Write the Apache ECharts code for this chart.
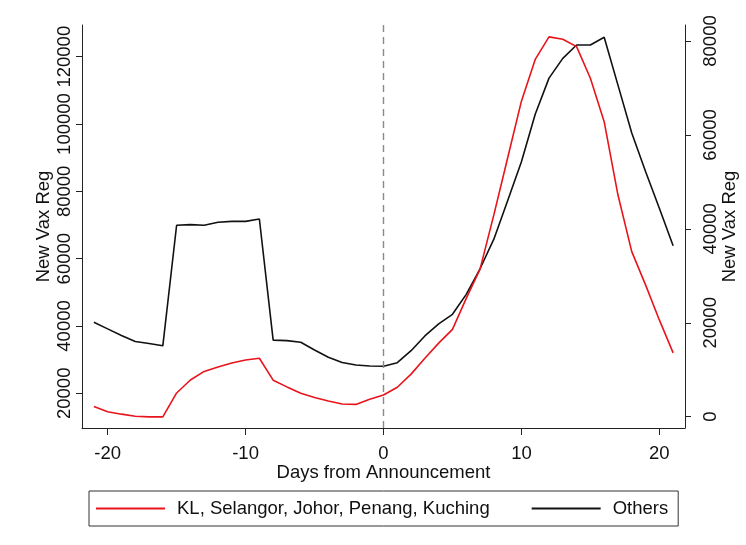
<!DOCTYPE html>
<html>
<head>
<meta charset="utf-8">
<script src="https://cdn.jsdelivr.net/npm/echarts@6/dist/echarts.min.js"></script>
<style>
  html, body { margin: 0; padding: 0; background: #ffffff; }
  #chart { width: 746px; height: 545px; }
</style>
</head>
<body>
<div id="chart"></div>
<script>
// Days relative to the announcement
var days = [-21, -20, -19, -18, -17, -16, -15, -14, -13, -12, -11, -10, -9, -8, -7, -6, -5, -4, -3, -2, -1,
            0, 1, 2, 3, 4, 5, 6, 7, 8, 9, 10, 11, 12, 13, 14, 15, 16, 17, 18, 19, 20, 21];

// New vaccine registrations, major urban areas (left axis)
var klGroup = [16100, 14500, 13800, 13200, 13000, 13000, 20100, 23950, 26500, 27800, 29000, 29900, 30400,
               23900, 21900, 20000, 18750, 17700, 16800, 16700, 18200,
               19500, 21800, 25700, 30400, 34900, 39000, 48200, 56900, 73000, 89900, 106800, 119200, 125900,
               125200, 123000, 113600, 100700, 78900, 62100, 52200, 41800, 32000];

// New vaccine registrations, all other areas (right axis)
var others = [20100, 18700, 17300, 16000, 15600, 15100, 40760, 40890, 40760, 41400, 41600, 41600, 42100,
              16300, 16200, 15850, 14200, 12650, 11550, 11000, 10800,
              10750, 11500, 14050, 17200, 19750, 21800, 26050, 31500, 37800, 46000, 54300, 64400, 72100,
              76300, 79150, 79150, 80800, 70600, 60400, 52200, 44400, 36400];

// Axis tick positions
var xTicks = [-20, -10, 0, 10, 20];
var leftTicks = [20000, 40000, 60000, 80000, 100000, 120000];
var rightTicks = [0, 20000, 40000, 60000, 80000];

var legendNames = ['KL, Selangor, Johor, Penang, Kuching', 'Others'];

function pairs(xs, ys) {
  return xs.map(function (x, i) { return [x, ys[i]]; });
}

var FONT = '"Liberation Sans", Arial, sans-serif';
var FONT_SIZE = 18.5;
var TEXT_COLOR = '#111111';
var AXIS_COLOR = '#222222';

var chart = echarts.init(document.getElementById('chart'), null, { renderer: 'canvas' });

function plainNumber(v) { return String(Math.round(v)); }

function yAxisCfg(position, min, max, ticks) {
  var isLeft = position === 'left';
  return {
    type: 'value',
    position: position,
    min: min,
    max: max,
    name: 'New Vax Reg',
    nameLocation: 'middle',
    nameRotate: 90,
    nameGap: isLeft ? 29 : 35,
    nameMoveOverlap: false,
    nameTextStyle: { fontFamily: FONT, fontSize: FONT_SIZE, color: TEXT_COLOR },
    splitLine: { show: false },
    axisLine: { show: true, onZero: false, lineStyle: { color: AXIS_COLOR, width: 1 } },
    axisTick: { show: true, length: 6, customValues: ticks, lineStyle: { color: AXIS_COLOR, width: 1 } },
    axisLabel: {
      customValues: ticks,
      formatter: plainNumber,
      rotate: 90,
      margin: isLeft ? 8 : 16,
      fontFamily: FONT,
      fontSize: FONT_SIZE,
      color: TEXT_COLOR
    }
  };
}

var option = {
  animation: false,
  backgroundColor: '#ffffff',
  grid: { left: 82, right: 61, top: 25, bottom: 117, containLabel: false, outerBoundsMode: 'none' },
  legend: {
    data: legendNames,
    left: 89,
    top: 491,
    orient: 'horizontal',
    icon: 'rect',
    itemWidth: 69,
    itemHeight: 2,
    itemGap: 42,
    padding: [8, 10, 8, 7],
    borderColor: '#333333',
    borderWidth: 1,
    textStyle: { fontFamily: FONT, fontSize: FONT_SIZE, color: TEXT_COLOR, padding: [0, 0, 0, 7] }
  },
  xAxis: {
    type: 'value',
    min: -21.86,
    max: 21.86,
    name: 'Days from Announcement',
    nameLocation: 'middle',
    nameGap: 35,
    nameMoveOverlap: false,
    nameTextStyle: { fontFamily: FONT, fontSize: FONT_SIZE, color: TEXT_COLOR },
    splitLine: { show: false },
    axisLine: { show: true, onZero: false, lineStyle: { color: AXIS_COLOR, width: 1 } },
    axisTick: { show: true, length: 7, customValues: xTicks, lineStyle: { color: AXIS_COLOR, width: 1 } },
    axisLabel: { customValues: xTicks, margin: 16, fontFamily: FONT, fontSize: FONT_SIZE, color: TEXT_COLOR }
  },
  yAxis: [
    yAxisCfg('left', 9690, 129418, leftTicks),
    yAxisCfg('right', -2406, 83407, rightTicks)
  ],
  series: [
    {
      name: legendNames[0],
      type: 'line',
      yAxisIndex: 0,
      data: pairs(days, klGroup),
      symbol: 'none',
      showSymbol: false,
      lineStyle: { color: '#e8141c', width: 1.6 },
      itemStyle: { color: '#e8141c' },
      markLine: {
        silent: true,
        symbol: ['none', 'none'],
        label: { show: false },
        lineStyle: { color: '#8a8a8a', type: [7, 5], width: 1.4 },
        data: [{ xAxis: 0 }]
      },
      z: 3
    },
    {
      name: legendNames[1],
      type: 'line',
      yAxisIndex: 1,
      data: pairs(days, others),
      symbol: 'none',
      showSymbol: false,
      lineStyle: { color: '#111111', width: 1.6 },
      itemStyle: { color: '#111111' },
      z: 2
    }
  ]
};

chart.setOption(option);
</script>
</body>
</html>
